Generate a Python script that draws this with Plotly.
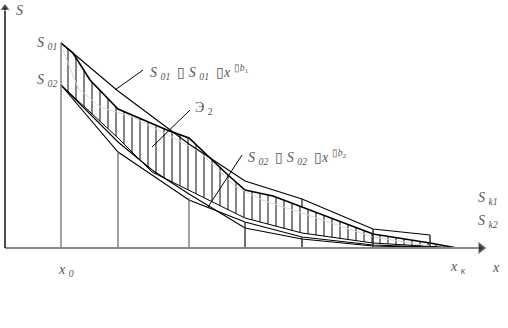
import plotly.graph_objects as go

# ---- data (x measured from the S axis, S measured up from the x axis) ----
upper_poly_x = [56, 113, 184, 240, 297, 368, 425]
upper_poly_s = [205, 157, 104, 67, 49, 19, 13]

hatch_top_x = [56, 68, 85, 113, 162, 184, 223, 240, 268, 297, 368, 425, 452]
hatch_top_s = [205, 195, 168, 139, 118, 110, 73, 58, 52, 41, 14, 5, 0]

hatch_bot_x = [56, 85, 113, 147, 184, 240, 297, 368, 452]
hatch_bot_s = [163, 136, 110, 76, 58, 30, 15, 5, 0]

lower_poly_x = [56, 113, 184, 240, 297, 368, 452]
lower_poly_s = [163, 96, 48, 26, 11, 3, 0]

lower_curve_x = [56, 113, 147, 184, 240, 297, 368, 452]
lower_curve_s = [163, 106, 78, 54, 20, 9, 2, 0]

ghost_x = [58, 73, 95, 125, 165, 195, 230, 257, 297, 368, 425]
ghost_s = [198, 160, 141, 132, 112, 96, 62, 48, 35, 11, 2]

grid_x = [56, 113, 184, 240, 297, 368, 425]
grid_top = [205, 96, 50, 26, 11, 19, 13]
grid_color = ["#777", "#777", "#777", "#333", "#222", "#222", "#222"]

tick_x = [297]
tick_lo = [41]
tick_hi = [49]

pointers = [  # (x0, s0, x1, s1)
    (138, 178, 110, 158),
    (185, 138, 147, 101),
    (237, 93, 203, 41),
]

fig = go.Figure()

# hatched region between the two curves
fig.add_trace(go.Scatter(x=hatch_bot_x, y=hatch_bot_s, mode="lines",
                         line=dict(color="black", width=1), showlegend=False))
fig.add_trace(go.Scatter(x=hatch_top_x, y=hatch_top_s, mode="lines", fill="tonexty",
                         fillcolor="rgba(0,0,0,0)",
                         fillpattern=dict(shape="|", size=8, solidity=0.24,
                                          fgcolor="black", bgcolor="rgba(0,0,0,0)"),
                         line=dict(color="black", width=1.6), showlegend=False))

fig.add_trace(go.Scatter(x=ghost_x, y=ghost_s, mode="lines",
                         line=dict(color="#d8d8d8", width=1), showlegend=False))

for xs, ss, w in [(upper_poly_x, upper_poly_s, 1.1),
                  (lower_poly_x, lower_poly_s, 1.1),
                  (lower_curve_x, lower_curve_s, 1.1)]:
    fig.add_trace(go.Scatter(x=xs, y=ss, mode="lines",
                             line=dict(color="black", width=w), showlegend=False))

for gx, gt, gc in zip(grid_x, grid_top, grid_color):
    fig.add_trace(go.Scatter(x=[gx, gx], y=[0, gt], mode="lines",
                             line=dict(color=gc, width=1.4), showlegend=False))

for tx, lo, hi in zip(tick_x, tick_lo, tick_hi):
    fig.add_trace(go.Scatter(x=[tx, tx], y=[lo, hi], mode="lines",
                             line=dict(color="black", width=1.1), showlegend=False))

for x0, s0, x1, s1 in pointers:
    fig.add_trace(go.Scatter(x=[x0, x1], y=[s0, s1], mode="lines",
                             line=dict(color="black", width=1), showlegend=False))

# axes with arrows
fig.add_trace(go.Scatter(x=[0, 476], y=[0, 0], mode="lines+markers",
                         line=dict(color="#888", width=2.2),
                         marker=dict(symbol="triangle-right", size=[0, 10], color="black"),
                         showlegend=False))
fig.add_trace(go.Scatter(x=[0, 0], y=[0, 240], mode="lines+markers",
                         line=dict(color="black", width=1.4),
                         marker=dict(symbol="triangle-up", size=[0, 9], color="black"),
                         showlegend=False))

F = "Liberation Serif"
TC = "#555"
labels = [
    (9, 238, "<i>S</i>", "left", 14),
    (54, 205, "<i>S</i> <sub><i>01</i></sub>", "right", 14),
    (54, 168, "<i>S</i> <sub><i>02</i></sub>", "right", 14),
    (143, 176, "<i>S</i> <sub><i>01</i></sub>  ▯ <i>S</i> <sub><i>01</i></sub>  ▯<i>x</i> <sup>▯<i>b</i><sub>1</sub></sup>", "left", 14),
    (188, 140, "Э <sub>2</sub>", "left", 14),
    (241, 91, "<i>S</i> <sub><i>02</i></sub>  ▯ <i>S</i> <sub><i>02</i></sub>  ▯<i>x</i> <sup>▯<i>b</i><sub>2</sub></sup>", "left", 14),
    (471, 50, "<i>S</i> <sub><i>k1</i></sub>", "left", 14),
    (471, 27, "<i>S</i> <sub><i>k2</i></sub>", "left", 14),
    (51, -22, "<i>x</i> <sub><i>0</i></sub>", "left", 14),
    (443, -19, "<i>x</i> <sub><i>к</i></sub>", "left", 14),
    (485, -19, "<i>x</i>", "left", 14),
]
for x, s, t, xa, fs in labels:
    fig.add_annotation(x=x, y=s, text=t, showarrow=False, xanchor=xa, yanchor="middle",
                       font=dict(family=F, size=fs, color=TC))

fig.update_layout(
    width=508, height=328, margin=dict(l=0, r=0, t=0, b=0),
    paper_bgcolor="white", plot_bgcolor="white",
    xaxis=dict(range=[-5, 503], visible=False),
    yaxis=dict(range=[-80, 248], visible=False),
)
fig.write_html("out.html")
